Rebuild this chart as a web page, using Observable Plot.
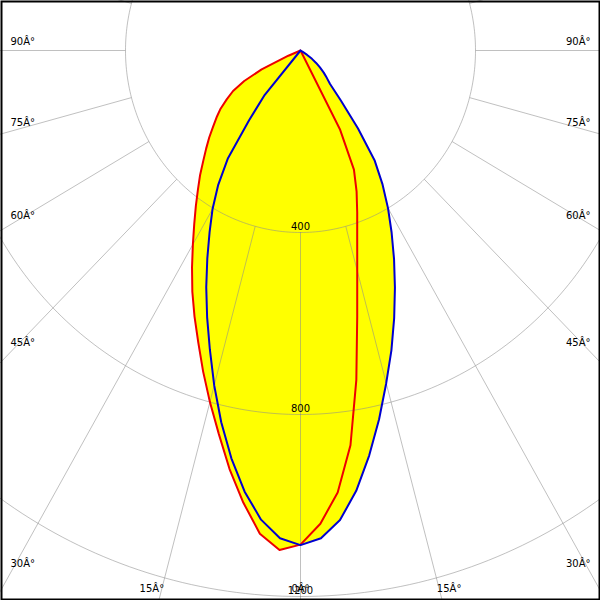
<!DOCTYPE html>
<html>
<head>
<meta charset="utf-8">
<script src="https://cdn.jsdelivr.net/npm/d3@7"></script>
<script src="https://cdn.jsdelivr.net/npm/@observablehq/plot@0.6"></script>
<style>
  html, body { margin: 0; padding: 0; background: #fff; overflow: hidden; }
</style>
</head>
<body>
<div id="chart"></div>
<script>
// Vertical angles (degrees from nadir) at which intensities are read (cd)
const angles = [0, 2.5, 5, 7.5, 10, 12.5, 15, 17.5, 20, 22.5, 25, 27.5, 30, 32.5, 35, 37.5, 40, 42.5, 45,
  47.5, 50, 52.5, 55, 57.5, 60, 62.5, 65, 67.5, 70, 72.5, 75, 77.5, 80, 82.5, 85, 87.5, 90];

// Red curve: C0 (right half) and C180 (left half)
const c0 = [1086, 1041, 975, 875, 735, 599, 501, 431, 379, 335, 289, 195, 0, 0, 0, 0, 0, 0, 0,
  0, 0, 0, 0, 0, 0, 0, 0, 0, 0, 0, 0, 0, 0, 0, 0, 0, 0];
const c180 = [1086, 1099, 1066, 1002, 934, 863, 800, 740, 683, 633, 585, 537, 492, 452, 417, 385, 357, 329, 305,
  283, 261, 242, 223, 200, 178, 145, 98, 30, 0, 0, 0, 0, 0, 0, 0, 0, 0];

// Blue curve: C90 (right half) and C270 (left half)
const c90 = [1087, 1073, 1036, 976, 904, 830, 757, 691, 626, 564, 506, 451, 400, 349, 296, 216, 144, 100, 85,
  72, 58, 45, 32, 18, 5, 0, 0, 0, 0, 0, 0, 0, 0, 0, 0, 0, 0];
const c270 = [1087, 1073, 1035, 978, 910, 837, 762, 689, 624, 563, 504, 450, 402, 350, 289, 193, 127, 0, 0,
  0, 0, 0, 0, 0, 0, 0, 0, 0, 0, 0, 0, 0, 0, 0, 0, 0, 0];

// Grid
const rings = [400, 800, 1200];
const ringLabels = ["400", "800", "1200"];
const spokeAngles = [-165, -150, -135, -120, -105, -90, -75, -60, -45, -30, -15, 0, 15, 30, 45, 60, 75, 90, 105, 120, 135, 150, 165, 180];
const sideTicks = [90, 75, 60, 45, 30];
const sideTickLabels = ["90Â°", "75Â°", "60Â°", "45Â°", "30Â°"];
const bottomTicks = [15, 0];
const bottomTickLabels = ["15Â°", "0Â°"];

// pixel scale factors (px per cd) of the picture
const kx = 0.4375, ky = 0.455;
const W = 600, H = 600, cx = 300, cy = 50;
const xDomain = [-cx / kx, (W - cx) / kx];
const yDomain = [-(H - cy) / ky, cy / ky];

const rad = d => d * Math.PI / 180;
const pt = (a, r) => ({x: r * Math.sin(rad(a)), y: -r * Math.cos(rad(a))});

function curve(left, right) {
  const pts = [];
  for (let i = angles.length - 1; i >= 0; i--) pts.push(pt(-angles[i], left[i]));
  for (let i = 1; i < angles.length; i++) pts.push(pt(angles[i], right[i]));
  return pts;
}
const red = curve(c180, c0);
const blue = curve(c270, c90);

const ringPts = rings.flatMap(r => d3.range(0, 361, 1).map(a => ({ring: r, ...pt(a, r)})));
const spokes = spokeAngles.map(a => {
  const p1 = pt(a, rings[0]), p2 = pt(a, 4000);
  return {x1: p1.x, y1: p1.y, x2: p2.x, y2: p2.y};
});

// side labels: just above each spoke, 10px in from the edge
const xIn = xDomain[1] - 10 / kx;
const sideY = sideTicks.map((a, i) => ({y: a === 90 ? 0 : -xIn / Math.tan(rad(a)), text: sideTickLabels[i]}));
const leftLabels = sideY.map(d => ({x: xDomain[0], ...d}));
const rightLabels = sideY.map(d => ({x: xDomain[1], ...d}));
const yb = -(588 - cy) / ky;
const bl = bottomTicks.map((a, i) => ({x: -yb * Math.tan(rad(a)), y: yb, text: bottomTickLabels[i], a}));
const bottomLeft = bl.filter(d => d.a > 0).map(d => ({...d, x: -d.x}));
const bottomRight = bl.filter(d => d.a > 0);
const bottomCenter = bl.filter(d => d.a === 0);
const ringText = rings.map((r, i) => ({x: 0, y: -r, text: ringLabels[i]}));

const gridStroke = "#8c8c8c";
const font = {fontSize: 10, fontFamily: "DejaVu Sans", fill: "black"};
const chart = Plot.plot({
  width: W, height: H, margin: 0,
  x: {domain: xDomain, axis: null},
  y: {domain: yDomain, axis: null},
  marks: [
    Plot.line(red, {x: "x", y: "y", fill: "#ffff00", stroke: "none", curve: "linear"}),
    Plot.line(blue, {x: "x", y: "y", fill: "#ffff00", stroke: "none", curve: "linear"}),
    Plot.line(ringPts, {x: "x", y: "y", z: "ring", stroke: gridStroke, strokeOpacity: 0.55, strokeWidth: 1, clip: true}),
    Plot.link(spokes, {x1: "x1", y1: "y1", x2: "x2", y2: "y2", stroke: gridStroke, strokeOpacity: 0.55, strokeWidth: 1, clip: true}),
    Plot.line(red, {x: "x", y: "y", stroke: "#ee0000", strokeWidth: 2, curve: "linear"}),
    Plot.line(blue, {x: "x", y: "y", stroke: "#0000d0", strokeWidth: 2, curve: "linear"}),
    Plot.text(ringText, {x: "x", y: "y", text: "text", dy: -6, textAnchor: "middle", ...font}),
    Plot.text(leftLabels, {x: "x", y: "y", text: "text", textAnchor: "start", dx: 10, dy: -9, ...font}),
    Plot.text(rightLabels, {x: "x", y: "y", text: "text", textAnchor: "end", dx: -10, dy: -9, ...font}),
    Plot.text(bottomLeft, {x: "x", y: "y", text: "text", textAnchor: "middle", dx: -10, ...font}),
    Plot.text(bottomRight, {x: "x", y: "y", text: "text", textAnchor: "middle", dx: 10, ...font}),
    Plot.text(bottomCenter, {x: "x", y: "y", text: "text", textAnchor: "middle", ...font}),
    Plot.frame({stroke: "black", strokeWidth: 2, inset: 1})
  ]
});
document.getElementById("chart").appendChild(chart);
</script>
</body>
</html>
